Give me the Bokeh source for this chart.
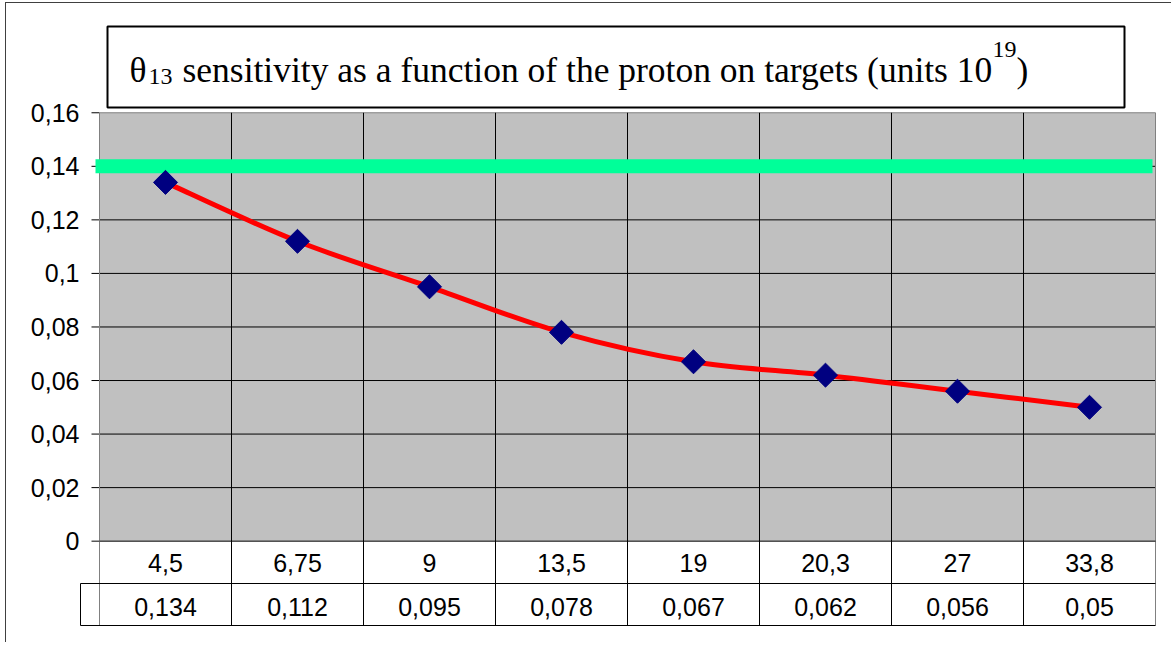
import math
from bokeh.plotting import figure
from bokeh.models import Range1d, FixedTicker, CustomJSTickFormatter, Label
from bokeh.embed import file_html
from bokeh.resources import INLINE
from bokeh.core.properties import value

# ---------------- data ----------------
categories = ["4,5", "6,75", "9", "13,5", "19", "20,3", "27", "33,8"]   # protons on target (10^19)
sensitivity = [0.134, 0.112, 0.095, 0.078, 0.067, 0.062, 0.056, 0.05]
threshold = 0.14
y_ticks = [0, 0.02, 0.04, 0.06, 0.08, 0.10, 0.12, 0.14, 0.16]
y_min, y_max = 0.0, 0.16
title_main = "θ"
title_sub = "13"
title_text = "sensitivity as a function of the proton on targets (units 10"
title_sup = "19"
title_end = ")"

# ---------------- layout helpers (page pixels -> data units) ----------------
OX, OY = 6, 3                  # page position of the canvas
W, H = 1166, 640
PX0, CW = 99.0, 132.0          # page x of category 0 edge, px per category
PY0, PPU = 540.67, 2677.5      # page y of value 0, px per unit
FRAME_L = 79


def X(px):
    return (px - PX0) / CW


def Y(py):
    return (PY0 - py) / PPU


n = len(categories)
xs = [i + 0.5 for i in range(n)]

p = figure(width=W, height=H, output_backend="svg", toolbar_location=None,
           x_range=Range1d(X(FRAME_L), X(OX + W)), y_range=Range1d(Y(OY + H), Y(OY)),
           x_axis_location=None, y_axis_location="left",
           min_border_left=FRAME_L - OX, min_border_right=0, min_border_top=0, min_border_bottom=0)
p.outline_line_color = None
p.xgrid.visible = False
p.ygrid.visible = False
p.background_fill_color = "white"
p.border_fill_color = "white"
p.styles = {"margin-left": f"{OX - 1}px", "margin-top": f"{OY - 1}px",
            "border-left": "1px solid #404040", "border-top": "1px solid #404040"}

ax = p.yaxis[0]
ax.ticker = FixedTicker(ticks=y_ticks)
ax.formatter = CustomJSTickFormatter(code="var s = (Math.round(tick*100)/100).toString(); return s.replace('.', ',');")
ax.axis_line_color = None
ax.major_tick_line_color = None
ax.minor_tick_line_color = None
ax.major_tick_out = 0
ax.major_tick_in = 0
ax.major_label_standoff = 0
ax.major_label_text_font = "Liberation Sans"
ax.major_label_text_font_size = "25px"
ax.major_label_text_color = "black"

# plot area
p.quad(left=[0], right=[n], bottom=[y_min], top=[y_max], fill_color="#C0C0C0", line_color=None)

# horizontal gridlines + ticks
inner = [t for t in y_ticks if 0 < t < y_max]
p.segment(x0=[0] * len(inner), x1=[n] * len(inner), y0=inner, y1=inner, line_color="black", line_width=1)
p.segment(x0=[X(91)] * len(y_ticks), x1=[0] * len(y_ticks), y0=y_ticks, y1=y_ticks, line_color="black", line_width=1)
p.segment(x0=[0], x1=[n], y0=[y_max], y1=[y_max], line_color="#808080", line_width=1)

# vertical lines through plot area and table
p.segment(x0=list(range(1, n)), x1=list(range(1, n)), y0=[Y(625)] * (n - 1), y1=[y_max] * (n - 1),
          line_color="black", line_width=1)
p.segment(x0=[0, n], x1=[0, n], y0=[Y(625)] * 2, y1=[y_max] * 2, line_color="#808080", line_width=1)

# table borders
p.segment(x0=[0, X(80), X(80)], x1=[n, n, n], y0=[y_min, Y(583), Y(625)], y1=[y_min, Y(583), Y(625)],
          line_color="black", line_width=1)
p.segment(x0=[X(80)], x1=[X(80)], y0=[Y(583)], y1=[Y(625)], line_color="black", line_width=1)

# table texts
value_labels = [str(v).replace(".", ",") for v in sensitivity]
p.text(x=xs, y=[Y(562.5)] * n, text=categories, text_align="center", text_baseline="middle",
       text_font=value("Liberation Sans"), text_font_size="25px", text_color="black")
p.text(x=xs, y=[Y(606.5)] * n, text=value_labels, text_align="center", text_baseline="middle",
       text_font=value("Liberation Sans"), text_font_size="25px", text_color="black")

# threshold line
p.segment(x0=[X(95)], x1=[X(1152)], y0=[threshold], y1=[threshold], line_color="#00FF99", line_width=14)

# smoothed red line (Catmull-Rom style Bezier control points)
x0s, y0s, x1s, y1s, cx0, cy0, cx1, cy1 = [], [], [], [], [], [], [], []
for i in range(n - 1):
    a, b = max(i - 1, 0), min(i + 2, n - 1)
    x0s.append(xs[i]); y0s.append(sensitivity[i])
    x1s.append(xs[i + 1]); y1s.append(sensitivity[i + 1])
    cx0.append(xs[i] + (xs[i + 1] - xs[a]) / 6); cy0.append(sensitivity[i] + (sensitivity[i + 1] - sensitivity[a]) / 6)
    cx1.append(xs[i + 1] - (xs[b] - xs[i]) / 6); cy1.append(sensitivity[i + 1] - (sensitivity[b] - sensitivity[i]) / 6)
p.bezier(x0=x0s, y0=y0s, x1=x1s, y1=y1s, cx0=cx0, cy0=cy0, cx1=cx1, cy1=cy1,
         line_color="#FF0000", line_width=5, line_cap="round")

p.scatter(xs, sensitivity, marker="square", angle=math.pi / 4, size=17,
          fill_color="#000080", line_color="#000080")

# title box
p.quad(left=[X(107)], right=[X(1124)], bottom=[Y(107)], top=[Y(26)], fill_color="white",
       line_color="black", line_width=2)


def lab(x, y, t, size):
    p.add_layout(Label(x=x, y=y, text=t, text_font="Liberation Serif", text_font_size=size,
                       text_baseline="middle", text_color="black"))


lab(X(129), Y(69), title_main, "35.5px")
lab(X(148), Y(76), title_sub, "24px")
lab(X(182), Y(69), title_text, "35.5px")
lab(X(992), Y(49), title_sup, "24px")
lab(X(1016), Y(69), title_end, "35.5px")

open("out.html", "w").write(file_html(p, INLINE))
